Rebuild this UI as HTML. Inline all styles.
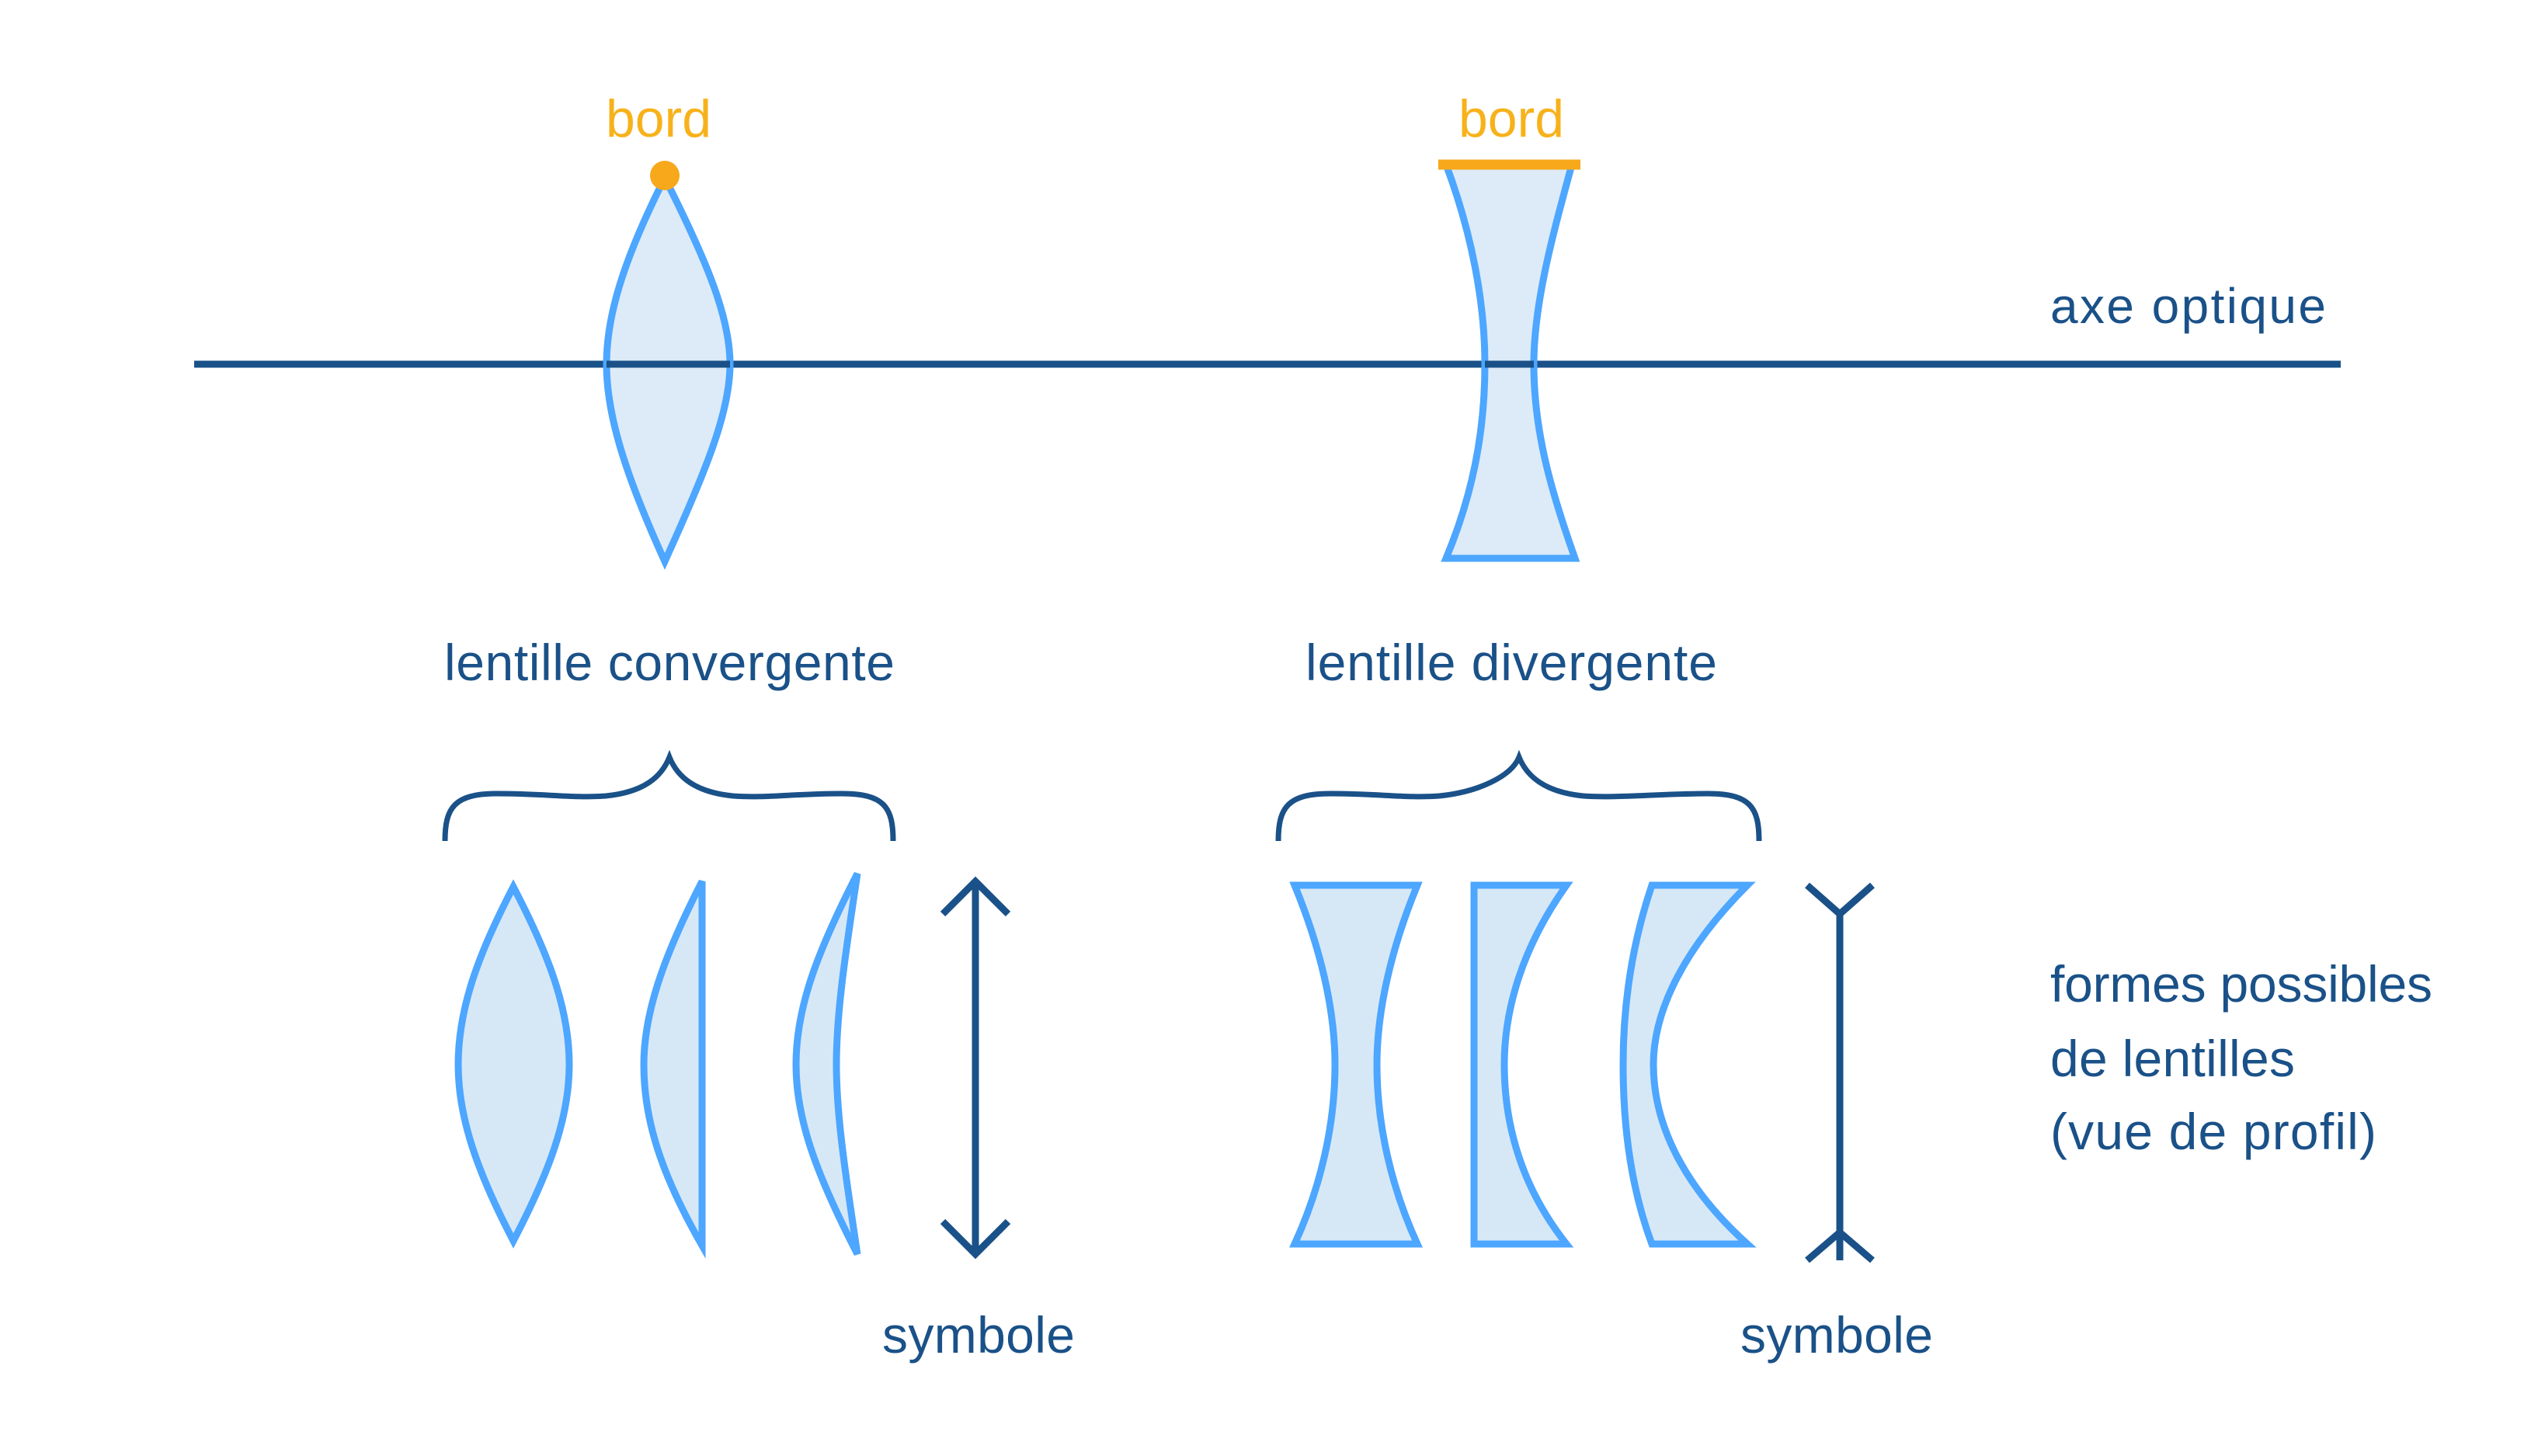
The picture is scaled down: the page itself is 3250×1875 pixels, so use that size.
<!DOCTYPE html>
<html><head><meta charset="utf-8"><style>html,body{margin:0;padding:0;background:#fff}svg{display:block}</style></head>
<body>
<svg width="3250" height="1875" viewBox="0 0 3250 1875" xmlns="http://www.w3.org/2000/svg" font-family="Liberation Sans, sans-serif">
<line x1="250" y1="469" x2="3014" y2="469" stroke="#1a5188" stroke-width="9"/>
<path d="M856,229 C800,340 781,410 781,469 C781,528 800,600 856,723 C912,600 940,528 940,469 C940,410 912,340 856,229 Z" fill="#d6e8f6" fill-opacity="0.85" stroke="#4da6ff" stroke-width="9"/>
<circle cx="856" cy="226" r="19" fill="#f7a81b"/>
<text x="848" y="176" font-size="68" fill="#f7b21b" text-anchor="middle" font-weight="500">bord</text>
<path d="M1862,212 C1895,300 1912,390 1912,469 C1912,560 1895,640 1862,719 L2028,719 C2000,640 1975,560 1975,469 C1975,390 2000,300 2024,212 Z" fill="#d6e8f6" fill-opacity="0.85" stroke="#4da6ff" stroke-width="9"/>
<line x1="1852" y1="212" x2="2035" y2="212" stroke="#f7a81b" stroke-width="13"/>
<text x="1946" y="176" font-size="68" fill="#f7b21b" text-anchor="middle" font-weight="500">bord</text>
<line x1="1912" y1="469" x2="1975" y2="469" stroke="#1a5188" stroke-width="9"/>
<line x1="781" y1="469" x2="940" y2="469" stroke="#1a5188" stroke-width="9"/>
<g fill="#1a5188" font-weight="500">
<text x="2640" y="416" font-size="64" textLength="355">axe optique</text>
<text x="862" y="876" font-size="66" text-anchor="middle" textLength="580">lentille convergente</text>
<text x="1946" y="876" font-size="66" text-anchor="middle" textLength="530">lentille divergente</text>
</g>
<path d="M573,1083 C573,1040 585,1022 640,1022 C700,1022 740,1028 780,1025 C830,1020 852,1000 862,975 C872,1000 894,1020 944,1025 C984,1028 1024,1022 1084,1022 C1139,1022 1150,1040 1150,1083" fill="none" stroke="#1a5188" stroke-width="7"/>
<path d="M1646,1083 C1646,1040 1658,1022 1713,1022 C1773,1022 1813,1028 1853,1025 C1903,1020 1946,1000 1956,975 C1966,1000 1989,1020 2039,1025 C2079,1028 2139,1022 2199,1022 C2254,1022 2265,1040 2265,1083" fill="none" stroke="#1a5188" stroke-width="7"/>
<g fill="#d6e8f6" stroke="#4da6ff" stroke-width="9">
<path d="M661,1142 C615,1230 590,1300 590,1371 C590,1440 615,1510 661,1598 C707,1510 733,1440 733,1371 C733,1300 707,1230 661,1142 Z"/>
<path d="M904,1135 C850,1240 829,1310 829,1371 C829,1440 850,1510 904,1604 Z"/>
<path d="M1104,1125 C1050,1230 1025,1300 1025,1371 C1025,1440 1050,1510 1104,1615 C1090,1520 1077,1440 1077,1371 C1077,1300 1090,1220 1104,1125 Z"/>
<path d="M1667,1140 C1700,1220 1719,1300 1719,1371 C1719,1450 1700,1530 1667,1602 L1825,1602 C1792,1530 1773,1450 1773,1371 C1773,1300 1792,1220 1825,1140 Z"/>
<path d="M1898,1140 L2017,1140 C1960,1220 1937,1300 1937,1371 C1937,1450 1960,1530 2017,1602 L1898,1602 Z"/>
<path d="M2127,1140 L2250,1140 C2170,1220 2129,1300 2129,1371 C2129,1450 2170,1530 2250,1602 L2127,1602 C2100,1530 2090,1450 2090,1371 C2090,1300 2100,1220 2127,1140 Z"/>
</g>
<g fill="none" stroke="#1a5188" stroke-width="9">
<line x1="1256" y1="1135" x2="1256" y2="1615"/>
<polyline points="1214,1177 1256,1135 1298,1177"/>
<polyline points="1214,1573 1256,1615 1298,1573"/>
<line x1="2369" y1="1177" x2="2369" y2="1623"/>
<polyline points="2327,1140 2369,1177 2411,1140"/>
<polyline points="2327,1623 2369,1587 2411,1623"/>
</g>
<g font-size="66" fill="#1a5188" font-weight="500">
<text x="1260" y="1742" text-anchor="middle" textLength="248">symbole</text>
<text x="2365" y="1742" text-anchor="middle" textLength="248">symbole</text>
<text x="2640" y="1290" textLength="492">formes possibles</text>
<text x="2640" y="1386" textLength="315">de lentilles</text>
<text x="2640" y="1480" textLength="420">(vue de profil)</text>
</g>
</svg>
</body></html>
